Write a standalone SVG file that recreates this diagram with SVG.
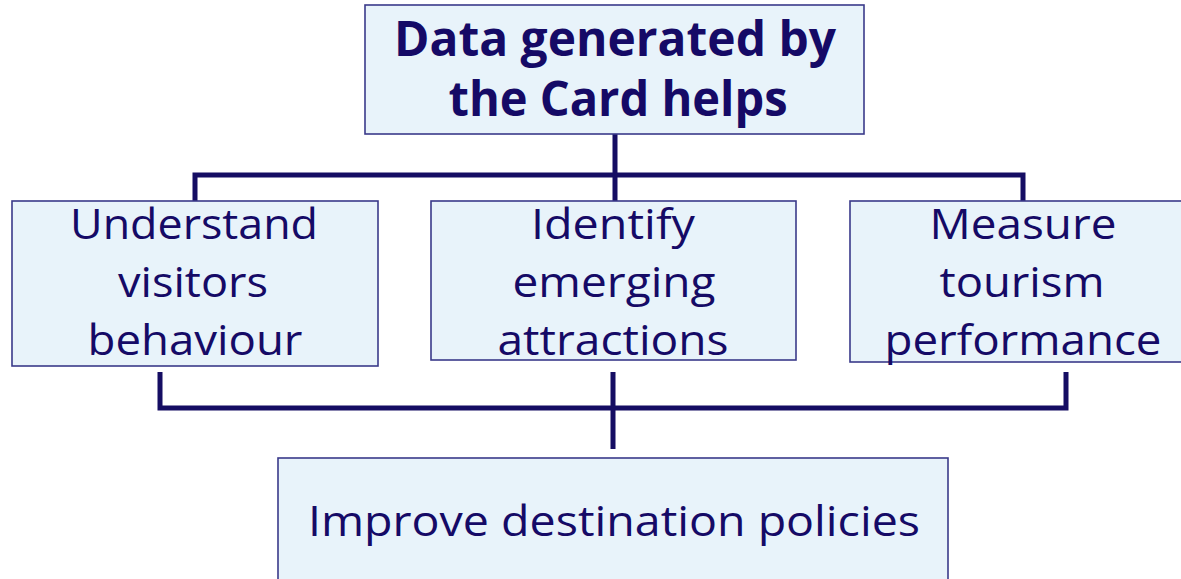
<svg xmlns="http://www.w3.org/2000/svg" width="1181" height="579" viewBox="0 0 1181 579">
<style>
.box{fill:#e8f3fa;stroke:#3a3a8a;stroke-width:1.6}
.t{font-family:"Open Sans","Noto Sans",sans-serif;font-size:42px;fill:#150a66;text-anchor:middle}
.b{font-weight:bold;font-size:48px}
.c{fill:none;stroke:#150d63;stroke-width:5}
</style>
<rect width="1181" height="579" fill="#ffffff"/>
<g id="connectors">
<path class="c" d="M615 134V201M195 201V175H1023V201"/>
<path class="c" d="M160 372V408H1066V372M613 372V449"/>
</g>
<g id="top">
<rect class="box" x="365" y="5" width="499" height="129"/>
<text class="t b" x="615" y="56" textLength="442" lengthAdjust="spacingAndGlyphs">Data generated by</text>
<text class="t b" x="618" y="116" textLength="339" lengthAdjust="spacingAndGlyphs">the Card helps</text>
</g>
<g id="understand">
<rect class="box" x="12" y="201" width="366" height="165"/>
<text class="t" x="194" y="239" textLength="248" lengthAdjust="spacingAndGlyphs">Understand</text>
<text class="t" x="193" y="297" textLength="150" lengthAdjust="spacingAndGlyphs">visitors</text>
<text class="t" x="195" y="355" textLength="215" lengthAdjust="spacingAndGlyphs">behaviour</text>
</g>
<g id="identify">
<rect class="box" x="431" y="201" width="365" height="159"/>
<text class="t" x="613" y="239" textLength="164" lengthAdjust="spacingAndGlyphs">Identify</text>
<text class="t" x="614" y="297" textLength="203" lengthAdjust="spacingAndGlyphs">emerging</text>
<text class="t" x="613" y="355" textLength="231" lengthAdjust="spacingAndGlyphs">attractions</text>
</g>
<g id="measure">
<rect class="box" x="850" y="201" width="340" height="161"/>
<text class="t" x="1023" y="239" textLength="187" lengthAdjust="spacingAndGlyphs">Measure</text>
<text class="t" x="1022" y="297" textLength="165" lengthAdjust="spacingAndGlyphs">tourism</text>
<text class="t" x="1023" y="355" textLength="277" lengthAdjust="spacingAndGlyphs">performance</text>
</g>
<g id="improve">
<rect class="box" x="278" y="458" width="670" height="130"/>
<text class="t" x="614" y="536" textLength="612" lengthAdjust="spacingAndGlyphs">Improve destination policies</text>
</g>
</svg>
